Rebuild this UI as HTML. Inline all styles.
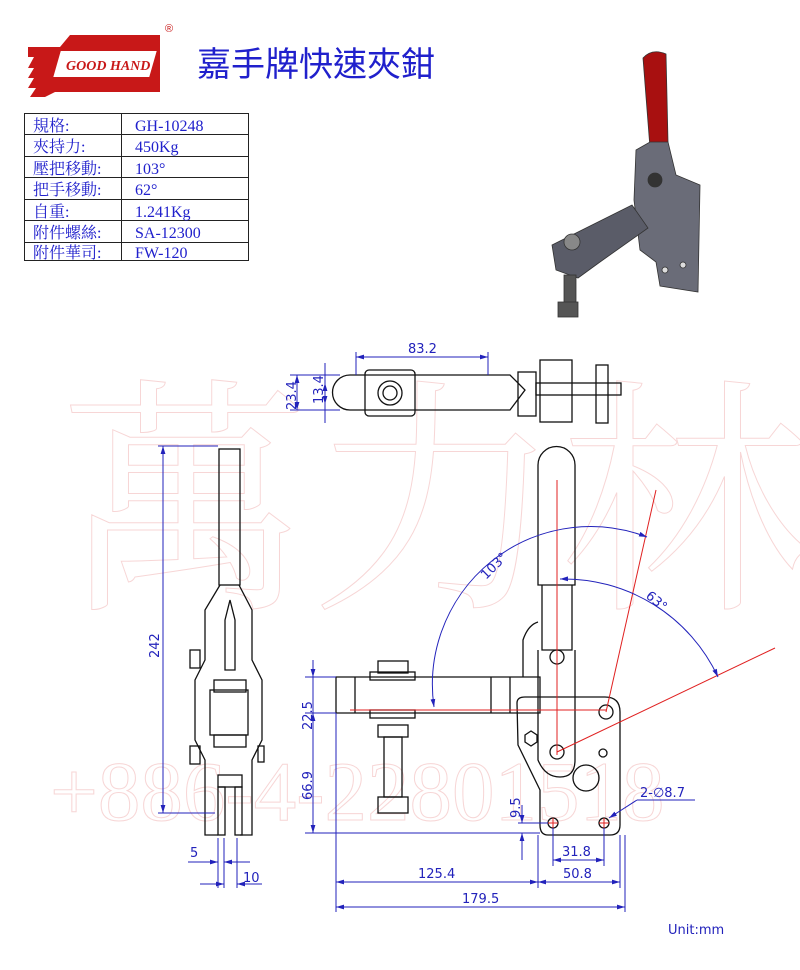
<!DOCTYPE html>
<html><head><meta charset="utf-8"><style>
body{margin:0;background:#fff;width:800px;height:970px;overflow:hidden}
svg{display:block}
.k{fill:none;stroke:#111;stroke-width:1.3}
.b{fill:none;stroke:#2222bb;stroke-width:1}
.r{fill:none;stroke:#e02020;stroke-width:1}
.d{font-family:"DejaVu Sans",sans-serif;font-size:13px;fill:#2222bb}
</style></head><body>
<svg width="800" height="970" viewBox="0 0 800 970" xmlns="http://www.w3.org/2000/svg">
<defs><marker id="a" viewBox="0 0 10 10" refX="10" refY="5" markerWidth="8" markerHeight="8" orient="auto-start-reverse"><path d="M0,2 L10,5 L0,8z" fill="#2222bb"/></marker></defs>
<!-- watermark -->
<g fill="none" stroke="#f7d6d6" stroke-width="1" font-family="Liberation Serif,Noto Serif CJK SC,serif">
<text x="60" y="590" font-size="250" font-family="Noto Serif CJK SC,serif">萬力林</text>
<text x="50" y="820" font-size="85">+886-4-22801518</text>
</g>
<!-- logo -->
<g>
<path d="M28,47 H60 L70,35 H160 V92 H55 L45,97 H30 L36,88 H28 L34,78 H28 L34,68 H28 L34,57 H28Z" fill="#c81818"/>
<path d="M60,50 H158 L150,78 H52Z" fill="#fff" stroke="#c81818" stroke-width="2"/>
<text x="66" y="70" font-family="Liberation Serif,serif" font-style="italic" font-weight="bold" font-size="14" fill="#c81818">GOOD HAND</text>
<text x="165" y="32" font-family="Liberation Sans,sans-serif" font-size="11" fill="#c81818">®</text>
</g>
<text x="197" y="76" font-family="Liberation Sans,Noto Sans CJK TC,sans-serif" font-size="34" fill="#2020cc">嘉手牌快速夾鉗</text>
<!-- table -->
<g font-family="Liberation Serif,Noto Serif CJK SC,serif" font-size="16" fill="#2020cc">
<rect x="24.5" y="113.5" width="224" height="147" fill="none" stroke="#222"/>
<line x1="121.5" y1="113" x2="121.5" y2="261" stroke="#222"/>
<g stroke="#222"><line x1="24" y1="134.5" x2="248" y2="134.5"/><line x1="24" y1="156.5" x2="248" y2="156.5"/><line x1="24" y1="177.5" x2="248" y2="177.5"/><line x1="24" y1="199.5" x2="248" y2="199.5"/><line x1="24" y1="220.5" x2="248" y2="220.5"/><line x1="24" y1="242.5" x2="248" y2="242.5"/></g>
<text x="33" y="131">規格:</text><text x="135" y="131">GH-10248</text>
<text x="33" y="152">夾持力:</text><text x="135" y="152">450Kg</text>
<text x="33" y="174">壓把移動:</text><text x="135" y="174">103°</text>
<text x="33" y="195">把手移動:</text><text x="135" y="195">62°</text>
<text x="33" y="217">自重:</text><text x="135" y="217">1.241Kg</text>
<text x="33" y="238">附件螺絲:</text><text x="135" y="238">SA-12300</text>
<text x="33" y="258">附件華司:</text><text x="135" y="258">FW-120</text>
</g>
<!-- product iso -->
<g stroke="#333" stroke-width="0.8">
<path d="M643,58 Q652,48 666,54 L668,142 L650,148 Z" fill="#a81010"/>
<path d="M636,150 L650,142 L668,142 L676,175 L700,185 L698,292 L660,286 L656,262 L640,250 L634,200 Z" fill="#6a6c78"/>
<path d="M552,245 L632,205 L648,228 L600,262 L578,278 L556,270 Z" fill="#5a5c68"/>
<rect x="564" y="275" width="12" height="30" fill="#555"/>
<rect x="558" y="302" width="20" height="15" fill="#555"/>
<circle cx="572" cy="242" r="8" fill="#888"/>
<circle cx="655" cy="180" r="7" fill="#333"/>
<circle cx="683" cy="265" r="3" fill="#ddd"/><circle cx="665" cy="270" r="3" fill="#ddd"/>
</g>
<!-- top view -->
<g class="k">
<path d="M350,375 H510 L525,390 L510,410 H350 A17.5,17.5 0 0 1 350,375Z"/>
<rect x="365" y="370" width="50" height="46" rx="4"/>
<circle cx="390" cy="393" r="12"/><circle cx="390" cy="393" r="7"/>
<rect x="518" y="372" width="18" height="44"/><rect x="540" y="360" width="32" height="62"/>
<rect x="536" y="383" width="85" height="12"/><rect x="596" y="365" width="12" height="58"/>
</g>
<g class="b" marker-start="url(#a)" marker-end="url(#a)">
<line x1="356" y1="357" x2="488" y2="357"/>
<line x1="297" y1="375" x2="297" y2="410"/>
<line x1="325" y1="383" x2="325" y2="404"/>
</g>
<g class="b"><line x1="356" y1="352" x2="356" y2="375"/><line x1="488" y1="352" x2="488" y2="375"/><line x1="290" y1="375" x2="340" y2="375"/><line x1="290" y1="410" x2="340" y2="410"/><line x1="325" y1="363" x2="325" y2="423"/></g>
<text class="d" x="408" y="353">83.2</text>
<text class="d" transform="translate(296,410) rotate(-90)">23.4</text>
<text class="d" transform="translate(323,404) rotate(-90)">13.4</text>
<!-- side view -->
<g class="k">
<rect x="219" y="449" width="21" height="136"/>
<path d="M220,585 L205,610 V660 L195,680 V740 L205,760 V835 H218 M239,585 L252,610 V660 L262,680 V740 L252,760 V835 H240"/>
<rect x="210" y="690" width="38" height="45"/><rect x="214" y="680" width="32" height="12"/><rect x="214" y="735" width="32" height="12"/>
<rect x="190" y="650" width="10" height="18"/><rect x="190" y="746" width="10" height="18"/><rect x="258" y="746" width="6" height="16"/>
<rect x="218" y="775" width="24" height="12"/><rect x="218" y="787" width="7" height="48"/><rect x="235" y="787" width="7" height="48"/>
<path d="M225,620 L230,600 L235,620 V670 H225Z"/>
</g>
<g class="b" marker-start="url(#a)" marker-end="url(#a)"><line x1="163" y1="446" x2="163" y2="813"/></g>
<g class="b"><line x1="158" y1="446" x2="218" y2="446"/><line x1="158" y1="813" x2="215" y2="813"/>
<line x1="218" y1="838" x2="218" y2="888"/><line x1="224" y1="838" x2="224" y2="888"/><line x1="237" y1="838" x2="237" y2="888"/>
<line x1="188" y1="862" x2="218" y2="862" marker-end="url(#a)"/><line x1="250" y1="862" x2="224" y2="862" marker-end="url(#a)"/>
<line x1="200" y1="884" x2="224" y2="884" marker-end="url(#a)"/><line x1="262" y1="884" x2="237" y2="884" marker-end="url(#a)"/></g>
<text class="d" transform="translate(159,658) rotate(-90)">242</text>
<text class="d" x="190" y="857">5</text><text class="d" x="243" y="882">10</text>
<!-- front view -->
<g class="k">
<path d="M538,585 V465 A18.5,18.5 0 0 1 575,465 V585 Z"/>
<path d="M542,585 V650 H572 V585"/>
<path d="M336,677 H540 V713 H336Z"/><line x1="355" y1="677" x2="355" y2="713"/><line x1="491" y1="677" x2="491" y2="713"/><line x1="510" y1="677" x2="510" y2="713"/>
<rect x="370" y="672" width="45" height="8"/><rect x="370" y="710" width="45" height="8"/>
<rect x="378" y="725" width="30" height="12"/><rect x="384" y="737" width="18" height="60"/><rect x="378" y="797" width="30" height="16"/>
<rect x="378" y="661" width="30" height="12"/>
<path d="M517,703 Q517,697 525,697 H605 Q620,697 620,712 V825 Q620,835 610,835 H548 Q540,835 540,825 V790 L518,745 Z"/>
<path d="M538,650 V760 Q545,777 560,777 Q575,777 575,760 V650"/>
<path d="M523,677 V640 Q528,625 538,622"/>
<circle cx="557" cy="657" r="7"/><circle cx="557" cy="752" r="7"/><circle cx="606" cy="712" r="7"/><circle cx="603" cy="753" r="4"/><circle cx="586" cy="778" r="13"/>
<circle cx="553" cy="823" r="5"/><circle cx="604" cy="823" r="5"/>
<path d="M525,735 L531,731 L537,735 V742 L531,746 L525,742Z"/>
</g>
<g class="r">
<line x1="557" y1="480" x2="557" y2="755"/><line x1="350" y1="710" x2="606" y2="710"/>
<line x1="557" y1="752" x2="775" y2="648"/><line x1="606" y1="712" x2="656" y2="490"/>
<line x1="548" y1="823" x2="558" y2="823"/><line x1="553" y1="818" x2="553" y2="828"/><line x1="599" y1="823" x2="609" y2="823"/><line x1="604" y1="818" x2="604" y2="828"/>
</g>
<g class="b">
<path d="M434,707 A158,158 0 0 1 647,537" marker-start="url(#a)" marker-end="url(#a)"/>
<path d="M560,579 A170,170 0 0 1 718,677" marker-start="url(#a)" marker-end="url(#a)"/>
<line x1="313" y1="660" x2="313" y2="677" marker-end="url(#a)"/><line x1="313" y1="677" x2="313" y2="713"/>
<line x1="313" y1="713" x2="313" y2="833" marker-start="url(#a)" marker-end="url(#a)"/>
<line x1="305" y1="677" x2="336" y2="677"/><line x1="305" y1="713" x2="336" y2="713"/><line x1="305" y1="833" x2="540" y2="833"/>
<line x1="522" y1="805" x2="522" y2="823" marker-end="url(#a)"/><line x1="522" y1="860" x2="522" y2="833" marker-end="url(#a)"/><line x1="518" y1="823" x2="548" y2="823"/>
<line x1="336" y1="713" x2="336" y2="912"/><line x1="538" y1="835" x2="538" y2="888"/><line x1="620" y1="835" x2="620" y2="888"/><line x1="625" y1="835" x2="625" y2="912"/>
<line x1="553" y1="828" x2="553" y2="866"/><line x1="604" y1="828" x2="604" y2="866"/>
<line x1="553" y1="860" x2="604" y2="860" marker-start="url(#a)" marker-end="url(#a)"/>
<line x1="336" y1="882" x2="538" y2="882" marker-start="url(#a)" marker-end="url(#a)"/>
<line x1="538" y1="882" x2="620" y2="882" marker-start="url(#a)" marker-end="url(#a)"/>
<line x1="336" y1="907" x2="625" y2="907" marker-start="url(#a)" marker-end="url(#a)"/>
<line x1="637" y1="800" x2="609" y2="818" marker-end="url(#a)"/><line x1="637" y1="800" x2="695" y2="800"/>
</g>
<text class="d" transform="translate(486,580) rotate(-45)">103°</text>
<text class="d" transform="translate(645,597) rotate(40)">63°</text>
<text class="d" transform="translate(312,730) rotate(-90)">22.5</text>
<text class="d" transform="translate(312,800) rotate(-90)">66.9</text>
<text class="d" transform="translate(520,818) rotate(-90)">9.5</text>
<text class="d" x="562" y="856">31.8</text>
<text class="d" x="418" y="878">125.4</text>
<text class="d" x="563" y="878">50.8</text>
<text class="d" x="462" y="903">179.5</text>
<text class="d" x="640" y="797">2-∅8.7</text>
<text class="d" x="668" y="934" font-size="15">Unit:mm</text>
</svg>
</body></html>
